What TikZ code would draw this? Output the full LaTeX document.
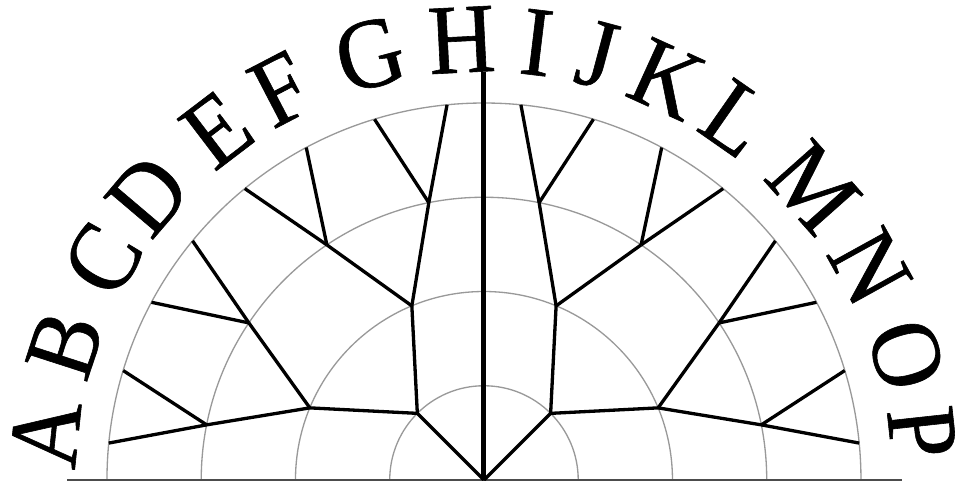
\documentclass[tikz,border=0pt]{standalone}
\usepackage{fontspec}
\setmainfont{Liberation Serif}
\newfontfamily\letterfont[FakeBold=0.6, FakeStretch=0.93]{Liberation Serif}
\usetikzlibrary{positioning}

\begin{document}
\begin{tikzpicture}[
        % Styles
        ring/.style={draw=black!40, line width=0.4pt},
        groundline/.style={draw=black!70, line width=0.4pt},
        branch/.style={draw=black, line width=1pt},
        trunk/.style={draw=black, line width=1.5pt},
        leaflabel/.style={font=\letterfont\fontsize{30}{30}\selectfont, inner sep=0pt, anchor=base}
    ]
    \useasboundingbox (-5.135,-0.01) rectangle (5.125,5.093);

    % ================= RINGS =================
    \foreach \r in {1,2,3,4} {
        \draw[ring] (\r,0) arc[start angle=0, end angle=180, radius=\r];
    }

    % Ground line
    \coordinate (gl) at (-4.42,0);
    \coordinate (gr) at (4.43,0);
    \draw[groundline] (gl) -- (gr);

    % ================= TREE =================
    \coordinate (n0) at (0,0);
    \foreach \k/\m in {1/2, 2/4, 3/8, 4/16} {
        \foreach \j in {1,...,\m} {
            \coordinate (n\k-\j) at ({180-(\j-0.5)*180/\m}:\k);
        }
    }

    % Root branches
    \foreach \j in {1,2} {
        \draw[branch] (n0) -- (n1-\j);
    }

    % Each node to its two children
    \foreach \k/\m in {2/4, 3/8, 4/16} {
        \pgfmathtruncatemacro\p{\k-1}
        \foreach \j in {1,...,\m} {
            \pgfmathtruncatemacro\q{(\j+1)/2}
            \draw[branch] (n\p-\q) -- (n\k-\j);
        }
    }

    % Trunk
    \coordinate (top) at (90:4.33);
    \draw[trunk] (n0) -- (top);

    % ================= LETTERS =================
    \foreach \ch/\a [count=\i] in {A/174.0, B/162.1, C/149.9, D/139.7, E/127.3, F/117.5, G/105.0, H/92.9,
                                   I/83.1, J/75.1, K/65.5, L/55.1, M/41.6, N/28.9, O/16.5, P/6.2} {
        \node[leaflabel, rotate={\a-90}] (l\i) at (\a:4.33) {\ch};
    }

\end{tikzpicture}
\end{document}
